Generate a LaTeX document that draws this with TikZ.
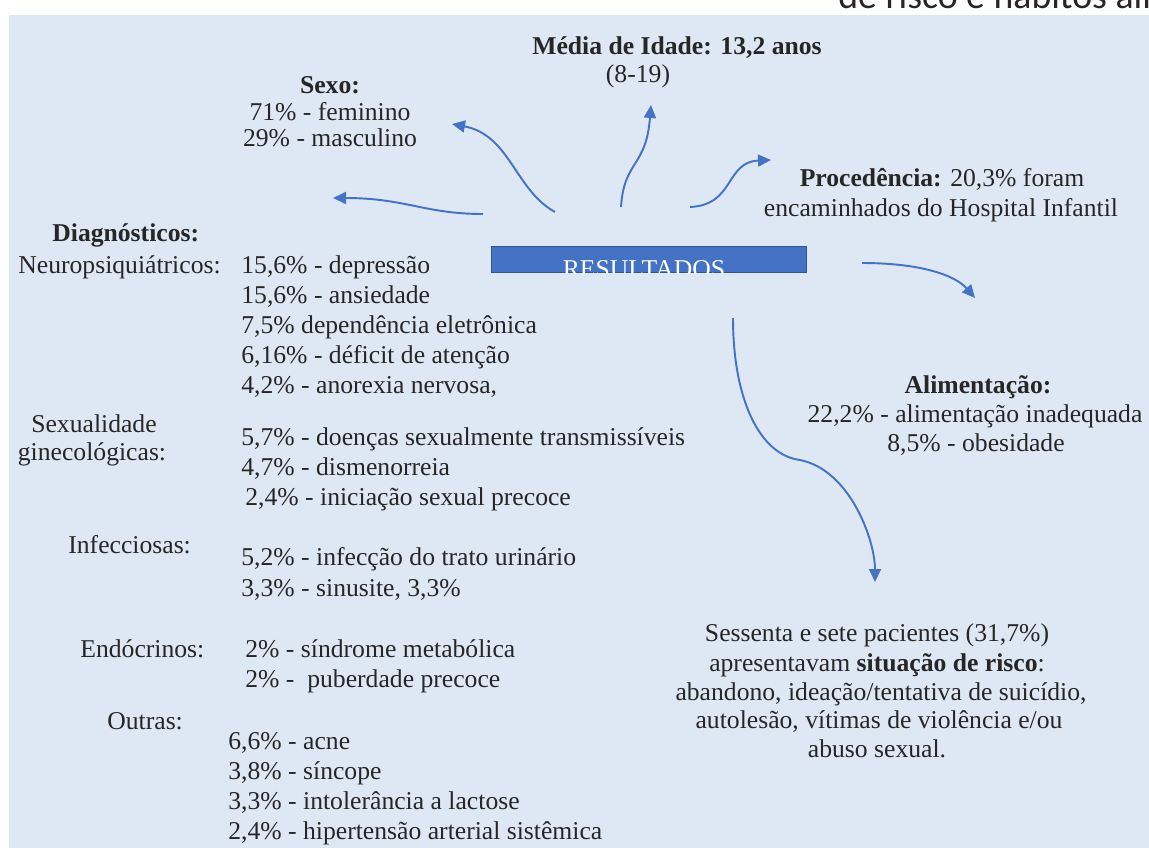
\documentclass[tikz,border=0pt]{standalone}
\usepackage{fontspec}
\setmainfont{Liberation Serif}
\newfontfamily\capfont{Carlito}
\usetikzlibrary{arrows.meta}
\definecolor{panelbg}{RGB}{222,232,245}
\definecolor{resblue}{RGB}{68,114,196}
\definecolor{resedge}{RGB}{47,85,151}
\definecolor{inktext}{RGB}{38,38,38}
\tikzset{
  txt/.style={font=\fontsize{14.6}{17}\selectfont, text=inktext, inner sep=0pt},
  head/.style={txt, font=\fontsize{14.6}{17}\selectfont\bfseries},
  item/.style={txt, anchor=base west},
  cat/.style={txt, anchor=base west},
  ctr/.style={txt, anchor=base},
  headctr/.style={head, anchor=base},
  flow/.style={-{Triangle[length=2.6mm,width=2.4mm]}, line width=1.1pt, resblue},
  resbox/.style={draw=resedge, fill=resblue, line width=0.6pt, inner sep=0pt,
                 minimum width=6.3cm, minimum height=0.52cm}
}

\begin{document}
\begin{tikzpicture}[x=0.02cm, y=-0.02cm]
\useasboundingbox (0,0) rectangle (1149,848);
\clip (0,0) rectangle (1149,848);
\fill[panelbg] (9,15) rectangle (1149,848);
\node[anchor=base west, inner sep=0pt, font=\capfont\fontsize{21.5}{24}\selectfont, text=black!85] (topline) at (838,9) {de risco e hábitos ali};

% central box
\node[resbox, anchor=north west] (res) at (491,246) {};
\begin{scope}
  \clip (res.south west) rectangle (res.north east);
  \node[txt, text=white, anchor=base] (restxt) at (644,277) {RESULTADOS};
\end{scope}

% top groups
\node[headctr] (sexo) at (330,93) {Sexo:};
\node[ctr] (sexo1) at (330,120) {71\% - feminino};
\node[ctr] (sexo2) at (330,146) {29\% - masculino};

\node[headctr] (idade) at (677,55) {Média de Idade: 13,2 anos};
\node[ctr] (idade1) at (638,83) {(8-19)};

\node[ctr] (proc1) at (942,186) {\textbf{Procedência:} 20,3\% foram};
\node[ctr] (proc2) at (941,216) {encaminhados do Hospital Infantil};

\node[headctr] (alim) at (978,393) {Alimentação:};
\node[ctr] (alim1) at (975,422) {22,2\% - alimentação inadequada};
\node[ctr] (alim2) at (976,451) {8,5\% - obesidade};

% diagnosticos
\node[head, anchor=base west] (diag) at (52,241) {Diagnósticos:};
\node[cat] (neuro) at (18,273) {Neuropsiquiátricos:};
\foreach \t [count=\i] in {{15,6\% - depressão},{15,6\% - ansiedade},{7,5\% dependência eletrônica},{6,16\% - déficit de atenção},{4,2\% - anorexia nervosa,}}
  \node[item] (neuro\i) at (241,{273+30*(\i-1)}) {\t};

\node[ctr] (sexua) at (94,432) {Sexualidade};
\node[ctr] (sexub) at (92,460) {ginecológicas:};
\node[item] (sexu1) at (241,445) {5,7\% - doenças sexualmente transmissíveis};
\node[item] (sexu2) at (241,475) {4,7\% - dismenorreia};
\node[item] (sexu3) at (245,505) {2,4\% - iniciação sexual precoce};

\node[cat] (infec) at (68,553) {Infecciosas:};
\node[item] (infec1) at (241,565) {5,2\% - infecção do trato urinário};
\node[item] (infec2) at (241,596) {3,3\% - sinusite, 3,3\%};

\node[cat] (endo) at (80,657) {Endócrinos:};
\node[item] (endo1) at (245,657) {2\% - síndrome metabólica};
\node[item] (endo2) at (245,687) {2\% - \ puberdade precoce};

\node[cat] (outr) at (107,729) {Outras:};
\foreach \t [count=\i] in {{6,6\% - acne},{3,8\% - síncope},{3,3\% - intolerância a lactose},{2,4\% - hipertensão arterial sistêmica}}
  \node[item] (outr\i) at (228,{749+30*(\i-1)}) {\t};

% risco
\node[ctr] (risco1) at (877,641) {Sessenta e sete pacientes (31,7\%)};
\node[ctr] (risco2) at (877,671) {apresentavam \textbf{situação de risco}:};
\node[ctr] (risco3) at (881,700) {abandono, ideação/tentativa de suicídio,};
\node[ctr] (risco4) at (879,728) {autolesão, vítimas de violência e/ou};
\node[ctr] (risco5) at (877,757) {abuso sexual.};

% arrows
\coordinate (sexoS) at (555,212);  \coordinate (sexoE) at (452,124);
\coordinate (diagS) at (483,214);  \coordinate (diagE) at (333,198);
\coordinate (idadeS) at (621,207); \coordinate (idadeE) at (651,105);
\coordinate (procS) at (690,207);  \coordinate (procE) at (771,160);
\coordinate (alimS) at (862,263);  \coordinate (alimE) at (975,298);
\coordinate (riscoS) at (733,318); \coordinate (riscoE) at (875,582);
\draw[flow] (sexoS) .. controls (515,190) and (510,135) .. (sexoE);
\draw[flow] (diagS) .. controls (425,214) and (405,198) .. (diagE);
\draw[flow] (idadeS) .. controls (624,160) and (646,168) .. (idadeE);
\draw[flow] (procS) .. controls (735,205) and (725,162) .. (procE);
\draw[flow] (alimS) .. controls (920,263) and (955,275) .. (alimE);
\draw[flow] (riscoS) .. controls (733,400) and (760,455) .. (800,460)
                     .. controls (850,470) and (875,540) .. (riscoE);
\end{tikzpicture}
\end{document}
